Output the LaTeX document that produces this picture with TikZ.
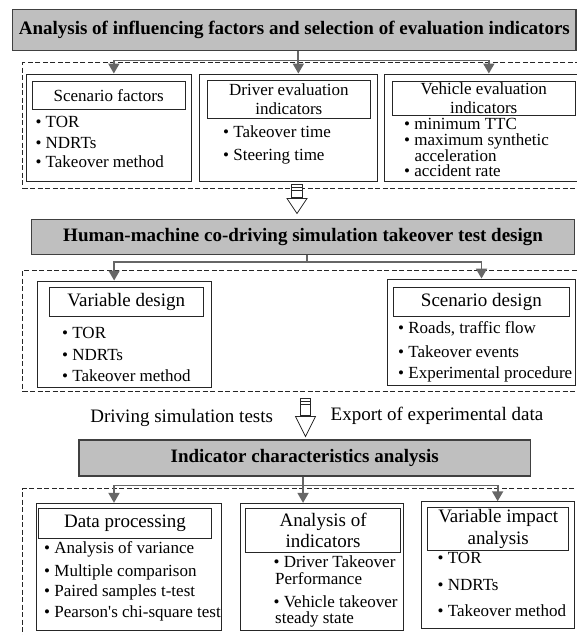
\documentclass[tikz,border=0pt]{standalone}
\usepackage{fontspec}
\setmainfont{Liberation Serif}
\usetikzlibrary{arrows.meta,fit}

\begin{document}
\begin{tikzpicture}[x=1pt,y=-1pt,
	head/.style={draw=black!75,fill=black!25,line width=1.1pt,inner sep=0,
		label={[inner sep=0,font=\bfseries\fontsize{19}{21}\selectfont]center:#1}},
	group/.style={draw=black!85,line width=0.8pt,dash pattern=on 5pt off 2.5pt,inner sep=0},
	panel/.style={draw=black!85,line width=0.9pt,inner sep=0},
	title/.style={panel,label={[inner sep=0,align=center,font=\fontsize{17}{19}\selectfont]center:#1}},
	bigtitle/.style={panel,label={[inner sep=0,align=center,font=\fontsize{19}{21.7}\selectfont]center:#1}},
	item/.style={anchor=west,inner sep=0,text height=11pt,text depth=2pt,font=\fontsize{17}{20}\selectfont},
	tag/.style={inner sep=0,font=\fontsize{19}{21}\selectfont},
	link/.style={draw=black!60,line width=1.8pt,-{Triangle[width=11pt,length=10pt]}},
	hollow/.style={draw=black!85,line width=0.8pt,fill=white},
	pics/striparrow/.style 2 args={code={
		\draw[hollow] (-5.25,0) rectangle (5.25,#1);
		\draw[hollow] (-5.25,3) -- (5.25,3) (-5.25,6.3) -- (5.25,6.3);
		\draw[hollow] (-10,#1+1.5) -- (10,#1+1.5) -- (0,#1+1.5+#2) -- cycle;
	}}]
\useasboundingbox (0,0) rectangle (577,635);

\node[head={Analysis of influencing factors and selection of evaluation indicators},fit={(12.7,9.3) (576,50.7)}] (head1) {};
\node[group,fit={(22.7,62.7) (580,188.3)}] (grp1) {};
\node[panel,fit={(26.7,74) (191,181.7)}] (facA) {};
\node[title={Scenario factors},fit={(32.3,81) (185,109.3)}] (facAt) {};
\foreach \t/\y [count=\i] in {TOR/122.7,NDRTs/144.3,Takeover method/163.3}
	\node[item] (facA\i) at (35.3,\y) {\textbullet\ \t};
\node[panel,fit={(199.3,74) (377,181.7)}] (drvB) {};
\node[title={Driver evaluation\\indicators},fit={(207.3,80) (370.3,118.3)}] (drvBt) {};
\foreach \t/\y [count=\i] in {Takeover time/132.7,Steering time/156}
	\node[item] (drvB\i) at (223,\y) {\textbullet\ \t};
\node[panel,fit={(384.7,74) (577,181.7)}] (vehC) {};
\node[title={Vehicle evaluation\\indicators},fit={(392,81) (575.5,115.7)}] (vehCt) {};
\foreach \t/\y [count=\i] in {minimum TTC/125,maximum synthetic/140.8,accident rate/172.3}
	\node[item] (vehC\i) at (404,\y) {\textbullet\ \t};
\node[item] (vehC4) at (414.3,156.5) {acceleration};
\draw[link] ([xshift=4]head1.south) -- ++(0,9.3) -| ([xshift=5]facA.north);
\draw[link] ([xshift=4]head1.south) -- ([xshift=4]head1.south |- drvB.north);
\draw[link] ([xshift=4]head1.south) -- ++(0,9.3) -| ([xshift=8]vehC.north);
\pic at (297,184) {striparrow={13}{15}};

\node[head={Human-machine co-driving simulation takeover test design},fit={(31.7,219.3) (574.5,254.3)}] (head2) {};
\node[group,fit={(22.7,270) (580,391.7)}] (grp2) {};
\node[panel,fit={(37.3,281) (211,387.3)}] (varD) {};
\node[bigtitle={Variable design},fit={(49.3,287.3) (203.3,316)}] (varDt) {};
\foreach \t/\y [count=\i] in {TOR/334,NDRTs/355.7,Takeover method/376.7}
	\node[item] (varD\i) at (62,\y) {\textbullet\ \t};
\node[panel,fit={(387.7,279) (575.3,385)}] (scnE) {};
\node[bigtitle={Scenario design},fit={(393,287.7) (569.7,316.7)}] (scnEt) {};
\foreach \t/\y [count=\i] in {{Roads, traffic flow}/329.3,Takeover events/353.3,Experimental procedure/374}
	\node[item] (scnE\i) at (398,\y) {\textbullet\ \t};
\draw[link] ([xshift=3.5]head2.south) -- ++(0,7.4) -| ([xshift=-10]varD.north);
\draw[link] ([xshift=3.5]head2.south) -- ++(0,7.4) -| (scnE.north);

\node[tag] (simtest) at (181.7,417.5) {Driving simulation tests};
\node[tag] (export) at (437,416) {Export of experimental data};
\pic at (305.5,398) {striparrow={17}{20}};

\node[head={Indicator characteristics analysis},fit={(79,440) (530.3,476)}] (head3) {};
\node[group,fit={(22.7,488.3) (580,645)}] (grp3) {};
\node[panel,fit={(36.7,503.3) (221.7,630.7)}] (datF) {};
\node[bigtitle={Data processing},fit={(38.3,508.3) (211.7,538.3)}] (datFt) {};
\foreach \t/\y [count=\i] in {Analysis of variance/549.3,Multiple comparison/571.7,Paired samples t-test/591.7,Pearson\textquotesingle s chi-square test/612.7}
	\node[item] (datF\i) at (44,\y) {\textbullet\ \t};
\node[panel,fit={(240,503.3) (403.7,630.7)}] (indG) {};
\node[bigtitle={Analysis of\\indicators},fit={(245.9,508.3) (400.3,552.7)}] (indGt) {};
\node[item] (indG1) at (273.4,562.7) {\textbullet\ Driver Takeover};
\node[item] (indG2) at (275,580) {Performance};
\node[item] (indG3) at (273.4,602.7) {\textbullet\ Vehicle takeover};
\node[item] (indG4) at (275,619.3) {steady state};
\node[panel,fit={(421,501.7) (574.3,628.3)}] (impH) {};
\node[bigtitle={Variable impact\\analysis},fit={(427.7,507.3) (568.7,550)}] (impHt) {};
\foreach \t/\y [count=\i] in {TOR/559.3,NDRTs/585.7,Takeover method/611.7}
	\node[item] (impH\i) at (437.5,\y) {\textbullet\ \t};
\draw[link] ([xshift=-1.6]head3.south) -- ++(0,9) -| ([xshift=-15.2]datF.north);
\draw[link] ([xshift=-1.6]head3.south) -- ([xshift=-1.6]head3.south |- indG.north);
\draw[link] ([xshift=-1.6]head3.south) -- ++(0,9) -| (impH.north);
\end{tikzpicture}
\end{document}
